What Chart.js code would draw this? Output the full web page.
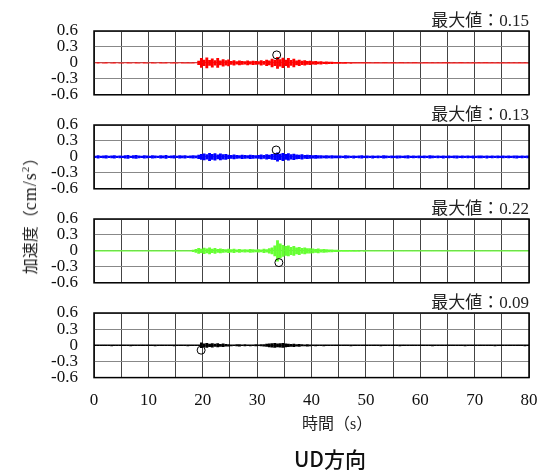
<!DOCTYPE html>
<html lang="ja">
<head>
  <meta charset="UTF-8" />
  <title>UD方向</title>
  <script src="https://cdn.jsdelivr.net/npm/chart.js"></script>
  <style>
    body { margin: 0; background: #fff; }
    #wrap { position: relative; width: 540px; height: 470px; overflow: hidden; }
    .panel { position: absolute; left: 0; width: 540px; }
    .label {
      position: absolute;
      font-family: 'Liberation Serif', 'Noto Sans CJK JP', serif;
      color: #222;
      white-space: nowrap;
    }
    #yTitle { left: 29px; top: 212px; transform: translate(-50%, -50%) rotate(-90deg); font-size: 16px; }
    #yTitle .lat { font-size: 18px; letter-spacing: 1px; }
    #xTitle { left: 302px; top: 422px; transform: translateY(-50%); font-size: 16px; }
    #caption {
      left: 330px; top: 458px; transform: translate(-50%, -50%);
      font-family: 'Noto Sans CJK JP', sans-serif; font-size: 21px; font-weight: 500; color: #111;
    }
  </style>
</head>
<body>
<div id="wrap">
  <div class="panel" style="top:9px"><canvas id="c0" width="540" height="98"></canvas></div>
  <div class="panel" style="top:103px"><canvas id="c1" width="540" height="98"></canvas></div>
  <div class="panel" style="top:197px"><canvas id="c2" width="540" height="98"></canvas></div>
  <div class="panel" style="top:291px"><canvas id="c3" width="540" height="122"></canvas></div>
  <div class="label" id="yTitle">加速度（<span class="lat">cm/s<sup style="font-size:11px">2</sup></span>）</div>
  <div class="label" id="xTitle">時間（s）</div>
  <div class="label" id="caption">UD方向</div>
</div>

<script>
  // time axis
  const xMin = 0, xMax = 80, xGridStep = 5, xLabelStep = 10;
  const binWidth = 0.5; // each amplitude value covers 0.5 s
  const yTicks = [-0.6, -0.3, 0, 0.3, 0.6];
  const yTickLabels = ['-0.6', '-0.3', '0', '0.3', '0.6'];

  const maxLabels = ['最大値：0.15', '最大値：0.13', '最大値：0.22', '最大値：0.09'];
  const maxTimes = [33.6, 33.5, 34.0, 19.7];
  const maxValues = [0.15, 0.13, -0.22, -0.09];
  const colors = ['#ff0000', '#0000ff', '#66ff33', '#000000'];

  // envelope amplitude, 0.5 s per value
  const ampRed = [
    0.008,0.010,0.008,0.009,0.010,0.008,0.009,0.010,0.008,0.009,
    0.009,0.008,0.010,0.009,0.008,0.011,0.009,0.008,0.010,0.009,
    0.008,0.010,0.009,0.008,0.010,0.009,0.011,0.008,0.009,0.010,
    0.009,0.008,0.010,0.009,0.011,0.009,0.010,0.008,0.040,0.090,
    0.060,0.100,0.055,0.085,0.050,0.090,0.045,0.070,0.050,0.065,
    0.035,0.050,0.030,0.045,0.035,0.030,0.045,0.030,0.040,0.035,
    0.030,0.050,0.035,0.060,0.045,0.080,0.060,0.110,0.070,0.095,
    0.060,0.090,0.055,0.080,0.045,0.060,0.040,0.050,0.035,0.040,
    0.030,0.035,0.025,0.030,0.022,0.025,0.020,0.022,0.018,0.016,
    0.016,0.014,0.016,0.013,0.014,0.013,0.012,0.013,0.011,0.012,
    0.010,0.011,0.009,0.010,0.011,0.009,0.010,0.010,0.009,0.011,
    0.010,0.009,0.010,0.011,0.009,0.010,0.009,0.010,0.011,0.009,
    0.009,0.010,0.011,0.009,0.010,0.009,0.010,0.009,0.011,0.010,
    0.010,0.009,0.010,0.009,0.011,0.010,0.009,0.010,0.009,0.010,
    0.009,0.010,0.009,0.011,0.010,0.009,0.010,0.009,0.010,0.009,
    0.010,0.009,0.011,0.009,0.010,0.009,0.010,0.009,0.010,0.009
  ];
  const ampBlue = [
    0.022,0.030,0.022,0.026,0.032,0.022,0.026,0.030,0.022,0.024,
    0.022,0.030,0.036,0.022,0.030,0.036,0.026,0.022,0.030,0.024,
    0.022,0.030,0.024,0.022,0.030,0.026,0.036,0.022,0.024,0.030,
    0.022,0.030,0.024,0.030,0.022,0.026,0.030,0.024,0.040,0.055,
    0.065,0.050,0.075,0.055,0.070,0.045,0.065,0.050,0.055,0.040,
    0.035,0.045,0.035,0.030,0.040,0.035,0.030,0.040,0.035,0.030,
    0.035,0.045,0.035,0.050,0.040,0.055,0.060,0.085,0.060,0.075,
    0.055,0.070,0.050,0.060,0.045,0.040,0.050,0.035,0.040,0.035,
    0.030,0.036,0.030,0.030,0.026,0.032,0.024,0.030,0.026,0.024,
    0.026,0.022,0.030,0.024,0.022,0.028,0.022,0.026,0.030,0.022,
    0.024,0.022,0.028,0.022,0.026,0.022,0.030,0.024,0.022,0.026,
    0.022,0.028,0.024,0.022,0.026,0.030,0.022,0.024,0.022,0.026,
    0.022,0.026,0.022,0.030,0.024,0.022,0.026,0.022,0.028,0.022,
    0.026,0.022,0.024,0.028,0.022,0.026,0.022,0.024,0.022,0.028,
    0.022,0.024,0.026,0.022,0.028,0.022,0.024,0.022,0.026,0.022,
    0.024,0.022,0.026,0.022,0.024,0.028,0.022,0.026,0.022,0.024
  ];
  const ampGreen = [
    0.012,0.010,0.012,0.011,0.010,0.012,0.011,0.010,0.012,0.011,
    0.010,0.012,0.011,0.013,0.010,0.012,0.011,0.010,0.012,0.011,
    0.011,0.010,0.012,0.011,0.010,0.012,0.013,0.011,0.010,0.012,
    0.010,0.012,0.011,0.010,0.012,0.011,0.020,0.035,0.055,0.040,
    0.060,0.045,0.065,0.040,0.055,0.035,0.045,0.035,0.030,0.040,
    0.030,0.040,0.025,0.035,0.025,0.032,0.025,0.035,0.030,0.025,
    0.030,0.025,0.040,0.030,0.050,0.065,0.100,0.200,0.140,0.110,
    0.090,0.100,0.075,0.090,0.065,0.075,0.055,0.065,0.050,0.050,
    0.045,0.035,0.045,0.030,0.035,0.030,0.025,0.025,0.022,0.020,
    0.018,0.016,0.018,0.015,0.016,0.014,0.015,0.014,0.013,0.014,
    0.012,0.011,0.012,0.013,0.011,0.012,0.011,0.012,0.011,0.012,
    0.011,0.012,0.011,0.010,0.012,0.011,0.012,0.011,0.010,0.012,
    0.011,0.010,0.012,0.011,0.010,0.011,0.012,0.010,0.011,0.010,
    0.011,0.012,0.010,0.011,0.010,0.011,0.010,0.012,0.010,0.011,
    0.010,0.011,0.010,0.011,0.012,0.010,0.011,0.010,0.011,0.010,
    0.011,0.010,0.011,0.010,0.011,0.010,0.012,0.010,0.011,0.010
  ];
  const ampBlack = [
    0.014,0.015,0.014,0.015,0.014,0.015,0.016,0.014,0.015,0.014,
    0.015,0.014,0.015,0.016,0.014,0.015,0.014,0.015,0.014,0.015,
    0.014,0.015,0.016,0.014,0.015,0.014,0.015,0.014,0.015,0.016,
    0.014,0.015,0.014,0.015,0.016,0.014,0.015,0.014,0.015,0.050,
    0.035,0.045,0.030,0.040,0.028,0.038,0.025,0.032,0.022,0.020,
    0.016,0.015,0.018,0.020,0.015,0.018,0.015,0.017,0.015,0.018,
    0.015,0.018,0.020,0.028,0.035,0.040,0.045,0.035,0.040,0.045,
    0.035,0.030,0.025,0.030,0.020,0.025,0.018,0.016,0.020,0.016,
    0.015,0.016,0.014,0.015,0.016,0.014,0.015,0.014,0.015,0.014,
    0.014,0.015,0.014,0.015,0.016,0.014,0.015,0.014,0.015,0.014,
    0.015,0.014,0.015,0.014,0.015,0.016,0.014,0.015,0.014,0.015,
    0.014,0.015,0.016,0.014,0.015,0.014,0.015,0.014,0.015,0.014,
    0.015,0.014,0.015,0.014,0.016,0.015,0.014,0.015,0.014,0.015,
    0.014,0.015,0.014,0.015,0.014,0.015,0.016,0.014,0.015,0.014,
    0.015,0.014,0.015,0.014,0.015,0.014,0.015,0.016,0.014,0.015,
    0.014,0.015,0.014,0.015,0.014,0.015,0.014,0.015,0.016,0.014
  ];
  const amps = [ampRed, ampBlue, ampGreen, ampBlack];

  const serif = "'Liberation Serif', 'Noto Sans CJK JP', serif";

  // black frame round the plot and the "最大値" note above its right corner
  const frameAndLabel = {
    id: 'frameAndLabel',
    afterDatasetsDraw(chart, args, opts) {
      const { ctx, chartArea: a } = chart;
      ctx.save();
      ctx.strokeStyle = '#000';
      ctx.lineWidth = 1.5;
      ctx.strokeRect(a.left, a.top, a.right - a.left, a.bottom - a.top);
      ctx.font = '17px ' + serif;
      ctx.fillStyle = '#222';
      ctx.textAlign = 'right';
      ctx.textBaseline = 'bottom';
      ctx.fillText(opts.text, a.right, a.top - 1);
      ctx.restore();
    }
  };

  amps.forEach((amp, i) => {
    const last = i === amps.length - 1;
    const band = amp.map((a, k) => ({ x: xMin + (k + 0.5) * binWidth, y: [-a, a] }));

    new Chart(document.getElementById('c' + i), {
      type: 'bar',
      data: {
        datasets: [
          {
            type: 'scatter',
            data: [{ x: maxTimes[i], y: maxValues[i] }],
            pointRadius: 4,
            pointHoverRadius: 4,
            pointBorderWidth: 1,
            pointBorderColor: '#000',
            pointBackgroundColor: 'rgba(0,0,0,0)',
            order: 0
          },
          {
            data: band,
            backgroundColor: colors[i],
            borderWidth: 0,
            barPercentage: 1.05,
            categoryPercentage: 1,
            order: 1
          }
        ]
      },
      options: {
        responsive: false,
        animation: false,
        devicePixelRatio: 1,
        layout: { autoPadding: false, padding: { top: 22, bottom: last ? 0 : 12, left: 0, right: 11 } },
        plugins: {
          legend: { display: false },
          tooltip: { enabled: false },
          frameAndLabel: { text: maxLabels[i] }
        },
        scales: {
          x: {
            type: 'linear',
            min: xMin,
            max: xMax,
            offset: false,
            grid: {
              color: '#444', lineWidth: 1, offset: false,
              drawTicks: last, tickLength: 11, tickColor: 'rgba(0,0,0,0)'
            },
            border: { display: false },
            ticks: {
              display: last,
              stepSize: xGridStep,
              autoSkip: false,
              maxRotation: 0,
              padding: 2,
              color: '#111',
              font: { family: serif, size: 17 },
              callback: v => (v % xLabelStep === 0 ? String(v) : '')
            }
          },
          y: {
            min: yTicks[0],
            max: yTicks[yTicks.length - 1],
            afterBuildTicks: s => { s.ticks = yTicks.map(v => ({ value: v })); },
            afterFit: s => { s.width = 94; },
            grid: { color: '#888', lineWidth: 1, drawTicks: true, tickLength: 14, tickColor: 'rgba(0,0,0,0)' },
            border: { display: false },
            ticks: {
              autoSkip: false,
              padding: 2,
              color: '#111',
              font: { family: serif, size: 17 },
              callback: (v, idx) => yTickLabels[idx]
            }
          }
        }
      },
      plugins: [frameAndLabel]
    });
  });
</script>
</body>
</html>
